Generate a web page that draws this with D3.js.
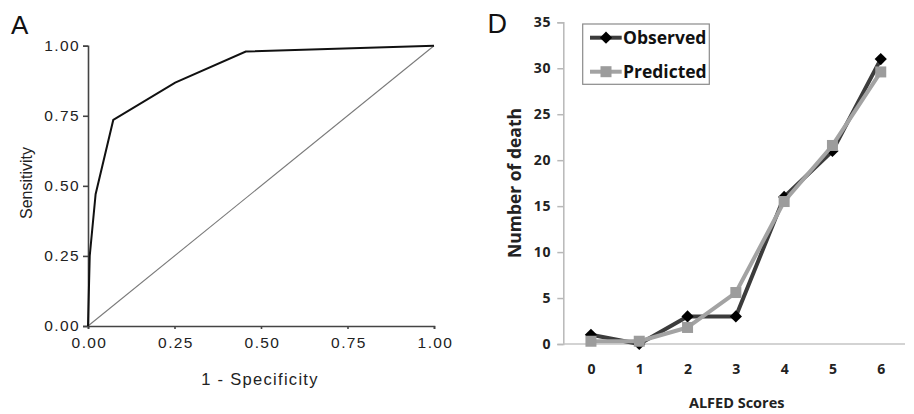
<!DOCTYPE html>
<html>
<head>
<meta charset="utf-8">
<script src="https://cdn.jsdelivr.net/npm/d3@7"></script>
<style>
  html, body { margin: 0; padding: 0; background: #fff; }
  svg { display: block; }
</style>
</head>
<body>
<svg id="chart" width="914" height="414"></svg>
<script>
// ---------- Data ----------
// Panel A: ROC curve
const rocFPR = [0, 0.005, 0.022, 0.073, 0.252, 0.456, 1.0];
const rocTPR = [0, 0.25, 0.47, 0.735, 0.868, 0.979, 1.0];
const rocTicks = [0, 0.25, 0.5, 0.75, 1.0];

// Panel D: observed vs predicted deaths by ALFED score
const scores = ["0", "1", "2", "3", "4", "5", "6"];
const observed = [1, 0, 3, 3, 16, 21, 31];
const predicted = [0.3, 0.3, 1.8, 5.6, 15.5, 21.6, 29.6];
const deathTicks = [0, 5, 10, 15, 20, 25, 30, 35];

const svg = d3.select("#chart");

// ---------- Panel A ----------
const ax = d3.scaleLinear().domain([0, 1]).range([88, 434]);
const ay = d3.scaleLinear().domain([0, 1]).range([326, 45.7]);
const gA = svg.append("g");
const armFont = "'Liberation Sans', Arial, sans-serif";

// diagonal reference
gA.append("line")
  .attr("x1", ax(0)).attr("y1", ay(0)).attr("x2", ax(1)).attr("y2", ay(1))
  .attr("stroke", "#7a7a7a").attr("stroke-width", 1.1);

// axes
const yAxisA = gA.append("g").attr("transform", `translate(${ax(0)},0)`)
  .call(d3.axisLeft(ay).tickValues(rocTicks).tickFormat(d3.format(".2f")).tickSize(5).tickPadding(3));
const xAxisA = gA.append("g").attr("transform", `translate(0,${ay(0)})`)
  .call(d3.axisBottom(ax).tickValues(rocTicks).tickFormat(d3.format(".2f")).tickSize(3).tickPadding(8));
[yAxisA, xAxisA].forEach(g => {
  g.select(".domain").attr("stroke", "#444").attr("stroke-width", 1.6);
  g.selectAll(".tick line").attr("stroke", "#444").attr("stroke-width", 1.6);
  g.selectAll(".tick text").attr("font-family", armFont).attr("font-size", 15.5)
    .attr("letter-spacing", "1.4px").attr("fill", "#222");
});
xAxisA.selectAll(".tick text").attr("dx", "1px");

// ROC curve
const rocData = rocFPR.map((f, i) => [f, rocTPR[i]]);
gA.append("path")
  .datum(rocData)
  .attr("d", d3.line().x(d => ax(d[0])).y(d => ay(d[1])))
  .attr("fill", "none").attr("stroke", "#111").attr("stroke-width", 2);

// labels
gA.append("text").attr("x", 11).attr("y", 33.5)
  .attr("font-family", armFont).attr("font-size", 26).attr("fill", "#111").text("A");
gA.append("text").attr("x", 260).attr("y", 385)
  .attr("text-anchor", "middle").attr("font-family", armFont).attr("font-size", 16.5)
  .attr("letter-spacing", "1.3px").attr("fill", "#222").text("1 - Specificity");
gA.append("text").attr("transform", "translate(32,183) rotate(-90)")
  .attr("text-anchor", "middle").attr("font-family", armFont).attr("font-size", 16)
  .attr("fill", "#222").text("Sensitivity");

// ---------- Panel D ----------
const bold = "'Open Sans', 'Liberation Sans', sans-serif";
const dx = d3.scalePoint().domain(scores).range([566.8, 904.9]).padding(0.5);
const dy = d3.scaleLinear().domain([0, 35]).range([344, 22.3]);
const gD = svg.append("g");

const yAxisD = gD.append("g").attr("transform", "translate(563.3,0)")
  .call(d3.axisLeft(dy).tickValues(deathTicks).tickSize(6).tickPadding(6));
yAxisD.select(".domain").attr("stroke", "#b8b8b8").attr("stroke-width", 1.5);
yAxisD.selectAll(".tick line").attr("stroke", "#b8b8b8").attr("stroke-width", 1.5);
yAxisD.selectAll(".tick text").attr("font-family", bold).attr("font-weight", "bold")
  .attr("font-size", 14).attr("letter-spacing", "0.8px").attr("fill", "#222");

const xAxisD = gD.append("g").attr("transform", `translate(0,${dy(0)})`)
  .call(d3.axisBottom(dx).tickSize(0).tickPadding(20));
xAxisD.select(".domain").attr("stroke", "#c4c4c4").attr("stroke-width", 1.5)
  .attr("d", `M563.3,0H905`);
xAxisD.selectAll(".tick text").attr("font-family", bold).attr("font-weight", "bold")
  .attr("font-size", 14).attr("fill", "#222");

const lineGen = d3.line().x((d, i) => dx(scores[i])).y(d => dy(d));

// Observed series
gD.append("path").datum(observed).attr("d", lineGen)
  .attr("fill", "none").attr("stroke", "#3c3c3c").attr("stroke-width", 4).attr("stroke-linejoin", "round");
const diamond = d3.symbol().type(d3.symbolDiamond2).size(95);
gD.selectAll(".obs").data(observed).enter().append("path")
  .attr("class", "obs")
  .attr("transform", (d, i) => `translate(${dx(scores[i])},${dy(d)})`)
  .attr("d", diamond).attr("fill", "#000");

// Predicted series
gD.append("path").datum(predicted).attr("d", lineGen)
  .attr("fill", "none").attr("stroke", "#a3a3a3").attr("stroke-width", 4).attr("stroke-linejoin", "round");
gD.selectAll(".pred").data(predicted).enter().append("rect")
  .attr("class", "pred")
  .attr("x", (d, i) => dx(scores[i]) - 5.5).attr("y", d => dy(d) - 5.5)
  .attr("width", 11).attr("height", 11).attr("fill", "#9c9c9c");

// Legend
const leg = gD.append("g");
leg.append("rect").attr("x", 582.7).attr("y", 24).attr("width", 126.6).attr("height", 60.3)
  .attr("fill", "#fff").attr("stroke", "#8a8a8a").attr("stroke-width", 1.2);
const legItems = [
  { name: "Observed", y: 37.7, stroke: "#3c3c3c", fill: "#000", sym: "diamond" },
  { name: "Predicted", y: 71.7, stroke: "#a3a3a3", fill: "#9c9c9c", sym: "square" }
];
legItems.forEach(it => {
  leg.append("line").attr("x1", 590).attr("x2", 621.7).attr("y1", it.y).attr("y2", it.y)
    .attr("stroke", it.stroke).attr("stroke-width", 4);
  if (it.sym === "diamond") {
    leg.append("path").attr("transform", `translate(606,${it.y})`).attr("d", diamond).attr("fill", it.fill);
  } else {
    leg.append("rect").attr("x", 600.5).attr("y", it.y - 5.5).attr("width", 11).attr("height", 11).attr("fill", it.fill);
  }
  leg.append("text").attr("x", 623).attr("y", it.y + 6.2)
    .attr("font-family", bold).attr("font-weight", "bold").attr("font-size", 17.5)
    .attr("fill", "#111").text(it.name);
});

// Labels
gD.append("text").attr("x", 487.5).attr("y", 32.5)
  .attr("font-family", armFont).attr("font-size", 27).attr("fill", "#111").text("D");
gD.append("text").attr("x", 736.7).attr("y", 408)
  .attr("text-anchor", "middle").attr("font-family", bold).attr("font-weight", "bold")
  .attr("font-size", 14.5).attr("fill", "#222").text("ALFED Scores");
gD.append("text").attr("transform", "translate(521,183) rotate(-90)")
  .attr("text-anchor", "middle").attr("font-family", bold).attr("font-weight", "bold")
  .attr("font-size", 17.5).attr("fill", "#222").text("Number of death");
</script>
</body>
</html>
